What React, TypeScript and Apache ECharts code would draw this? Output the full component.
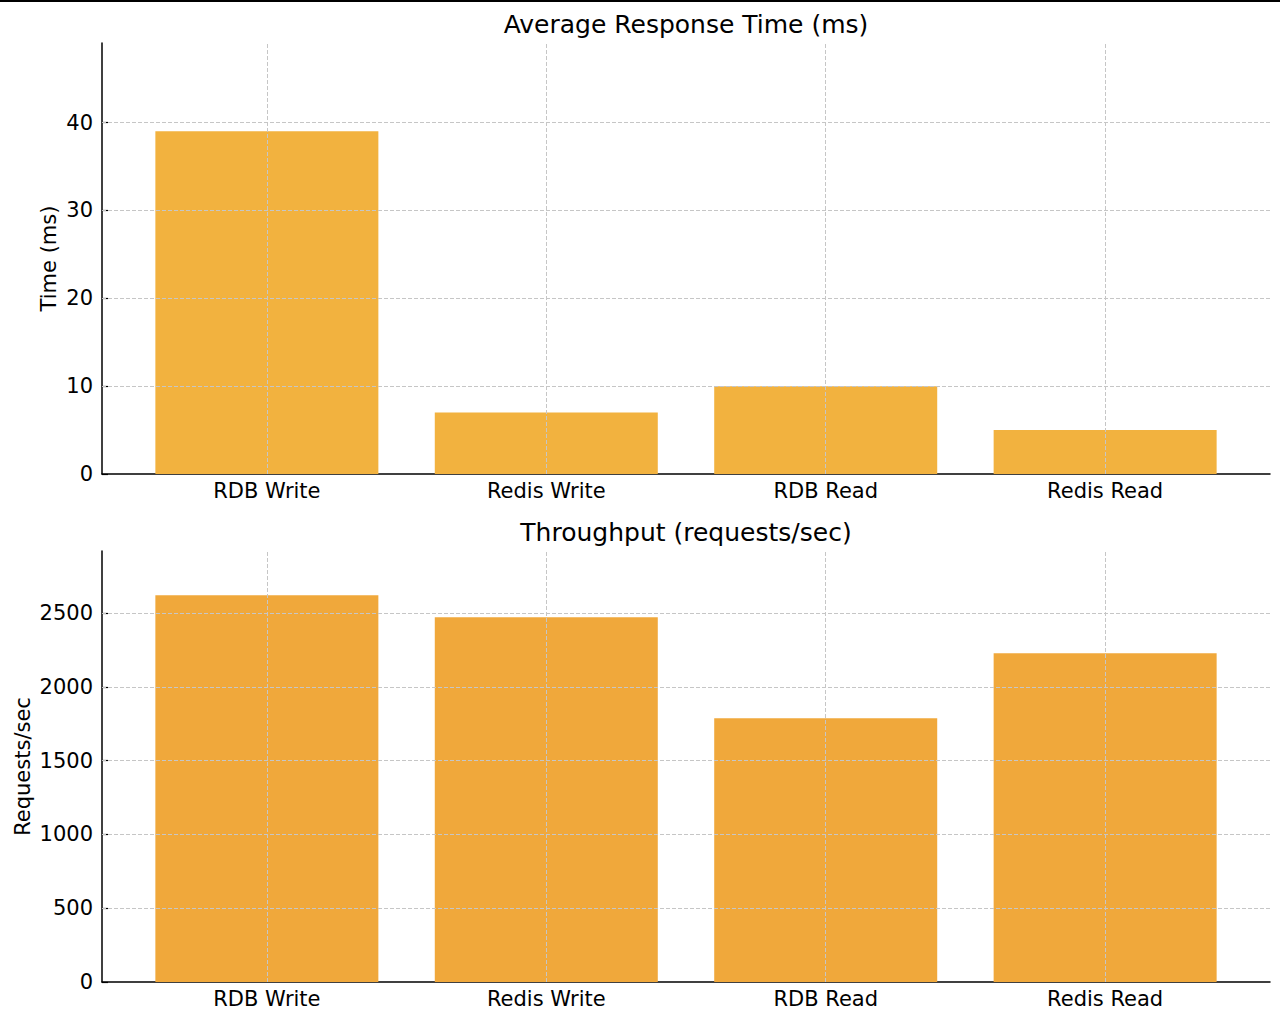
import React, { useEffect, useRef } from "react";
import * as echarts from "echarts";

const categories = ["RDB Write", "Redis Write", "RDB Read", "Redis Read"];
const responseTimes = [39, 7, 10, 5];
const throughputs = [2622, 2473, 1788, 2229];
const timeTicks = [0, 10, 20, 30, 40];
const throughputTicks = [0, 500, 1000, 1500, 2000, 2500];
const categoryPositions = [0, 1, 2, 3];

const FONT = "DejaVu Sans";

export default function App() {
  const ref = useRef<HTMLDivElement>(null);

  useEffect(() => {
    document.body.style.margin = "0";
    const chart = echarts.init(ref.current!, undefined, { renderer: "svg" });

    const gridLineStyle = { type: [4, 2] as any, color: "#c6c6c6", width: 1 };

    const xAxisFor = (gridIndex: number) => ({
      type: "value" as const,
      gridIndex,
      min: -0.59,
      max: 3.59,
      splitLine: { show: false },
      axisLine: { show: true, onZero: false, lineStyle: { color: "#000", width: 1.5 } },
      axisTick: {
        show: true,
        inside: true,
        length: 6,
        customValues: categoryPositions,
        lineStyle: { color: "#000", width: 1.2 },
      },
      axisLabel: {
        show: true,
        customValues: categoryPositions,
        formatter: (v: number) => categories[Math.round(v)] ?? "",
        fontSize: 21,
        fontFamily: FONT,
        color: "#000",
        margin: 6,
      },
    });

    const yAxisFor = (gridIndex: number, max: number, ticks: number[], name: string, nameGap: number) => ({
      type: "value" as const,
      gridIndex,
      min: 0,
      max,
      name,
      nameLocation: "middle" as const,
      nameGap,
      nameMoveOverlap: false,
      nameTextStyle: { fontSize: 21, fontFamily: FONT, color: "#000" },
      splitLine: { show: false },
      axisLine: { show: true, onZero: false, lineStyle: { color: "#000", width: 1.5 } },
      axisTick: {
        show: true,
        inside: true,
        length: 6,
        customValues: ticks,
        lineStyle: { color: "#000", width: 1.2 },
      },
      axisLabel: {
        show: true,
        customValues: ticks,
        formatter: (v: number) => String(v),
        fontSize: 21,
        fontFamily: FONT,
        color: "#000",
        margin: 9,
      },
    });

    const markLineFor = (ticks: number[]) => ({
      silent: true,
      symbol: "none",
      z: 5,
      label: { show: false },
      lineStyle: gridLineStyle,
      emphasis: { disabled: true },
      data: [
        ...categoryPositions.map((x) => ({ xAxis: x })),
        ...ticks.filter((t) => t > 0).map((y) => ({ yAxis: y })),
      ],
    });

    chart.setOption({
      animation: false,
      backgroundColor: "#fff",
      textStyle: { fontFamily: FONT },
      grid: [
        { left: 102, right: 10, top: 43, height: 431, containLabel: false, outerBoundsMode: "none" },
        { left: 102, right: 10, top: 551, height: 431, containLabel: false, outerBoundsMode: "none" },
      ],
      xAxis: [xAxisFor(0), xAxisFor(1)],
      yAxis: [
        yAxisFor(0, 49.05, timeTicks, "Time (ms)", 43),
        yAxisFor(1, 2922, throughputTicks, "Requests/sec", 69),
      ],
      graphic: [
        { type: "rect", shape: { x: 0, y: 0, width: 1280, height: 2 }, style: { fill: "#000" } },
        {
          type: "text",
          x: 686,
          y: 24,
          style: {
            text: "Average Response Time (ms)",
            fontSize: 25,
            fontFamily: FONT,
            fill: "#000",
            textAlign: "center",
            textVerticalAlign: "middle",
          },
        },
        {
          type: "text",
          x: 686,
          y: 532,
          style: {
            text: "Throughput (requests/sec)",
            fontSize: 25,
            fontFamily: FONT,
            fill: "#000",
            textAlign: "center",
            textVerticalAlign: "middle",
          },
        },
      ],
      series: [
        {
          type: "bar",
          xAxisIndex: 0,
          yAxisIndex: 0,
          barWidth: 223,
          itemStyle: { color: "#F2B23F" },
          data: responseTimes.map((v, i) => [categoryPositions[i], v]),
          markLine: markLineFor(timeTicks),
        },
        {
          type: "bar",
          xAxisIndex: 1,
          yAxisIndex: 1,
          barWidth: 223,
          itemStyle: { color: "#F0A83B" },
          data: throughputs.map((v, i) => [categoryPositions[i], v]),
          markLine: markLineFor(throughputTicks),
        },
      ],
    });

    return () => chart.dispose();
  }, []);

  return <div ref={ref} style={{ width: 1280, height: 1022 }} />;
}
